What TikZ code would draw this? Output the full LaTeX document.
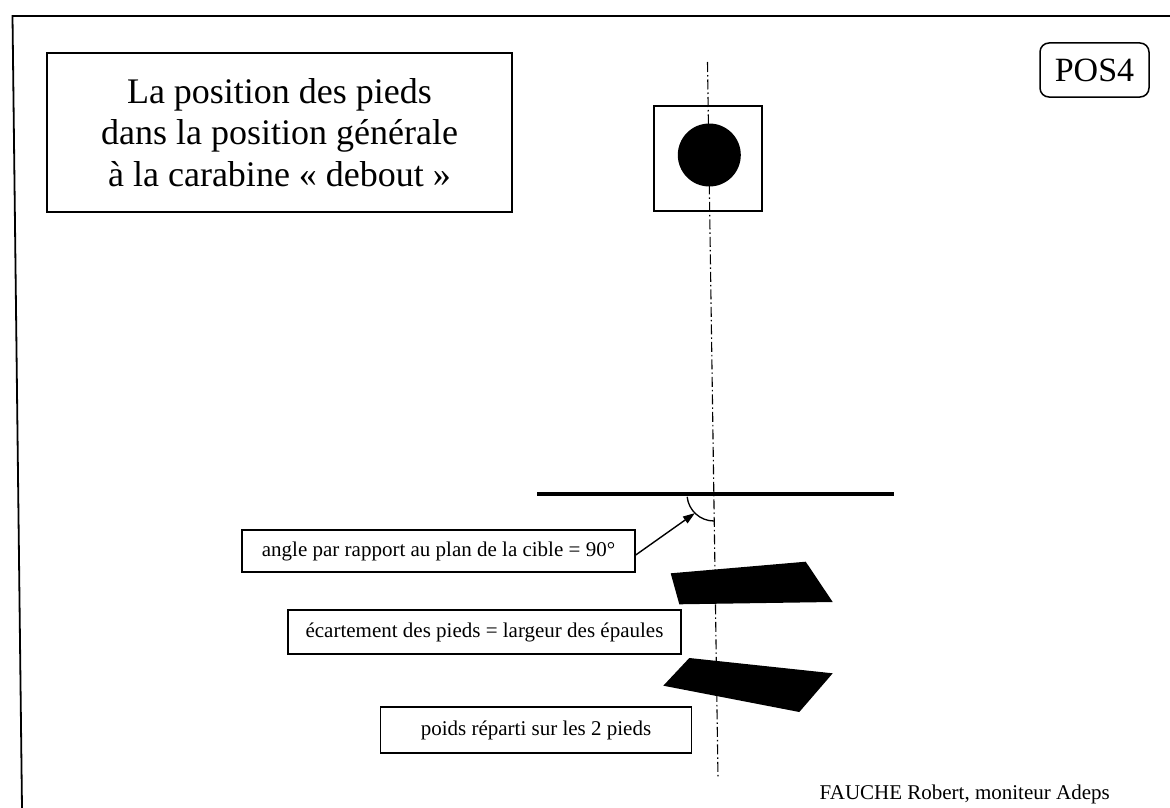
\documentclass[tikz,border=0pt]{standalone}
\usepackage{fontspec}
\setmainfont{Liberation Serif}
\usetikzlibrary{arrows.meta}
\tikzset{
  frameline/.style={line width=1.8pt},
  titlebox/.style={draw, line width=2.4pt, minimum width=465pt, minimum height=159pt, align=center, inner sep=0pt,
    font=\fontsize{36}{41.5}\selectfont},
  tagbox/.style={draw, line width=1.5pt, rounded corners=9pt, minimum width=109pt, minimum height=54pt, inner sep=0pt,
    font=\fontsize{34}{36}\selectfont},
  targetbox/.style={draw, line width=1.8pt, fill=white, minimum width=108pt, minimum height=105pt, inner sep=0pt},
  bull/.style={fill=black, draw=none, circle, minimum size=63pt, inner sep=0pt},
  notebox/.style={draw, line width=1.4pt, minimum height=42pt, inner sep=0pt, font=\fontsize{21}{24}\selectfont},
  axisline/.style={line width=1.1pt, dash pattern=on 10pt off 3pt on 1.5pt off 3pt},
  planline/.style={line width=4pt},
  footshape/.style={fill=black, draw=none},
  pointer/.style={line width=1.4pt, -{Triangle[length=12pt,width=8pt]}},
  anglearc/.style={line width=1.3pt},
  credit/.style={font=\fontsize{21}{24}\selectfont, inner sep=0pt}
}
\begin{document}
\begin{tikzpicture}[x=1pt,y=-1pt]
\useasboundingbox (0,0) rectangle (1170,808);
% outer frame (top and left)
\coordinate (frTR) at (1170,16);
\coordinate (frTL) at (12.5,16);
\coordinate (frBL) at (22,808);
\draw[frameline] (frTR) -- (frTL) -- (frBL);

% title
\node[titlebox] (title) at (279.5,132.5) {La position des pieds\\dans la position générale\\à la carabine « debout »};
% tag
\node[tagbox] (tag) at (1094.5,70) {POS4};

% target
\node[targetbox] (target) at (708,158.5) {};
% axis line
\coordinate (axtop) at (707.5,62);
\coordinate (axbot) at (718,778);
\draw[axisline] (axtop) -- (axbot);
\node[bull] (bull) at (709.3,155) {};

% plane of the target
\coordinate (plL) at (537,494);
\coordinate (plR) at (894,494);
\draw[planline] (plL) -- (plR);

% angle arc
\coordinate (ac) at (714,494);
\draw[anglearc] ([shift={(186:27pt)}]ac) arc[start angle=186, end angle=270, radius=27pt];
\coordinate (arctip) at ([shift={(225:27pt)}]ac);

% feet
\draw[footshape] (670.7,573.3) -- (805.7,561.7) -- (832.7,602) -- (679.3,604.3) -- cycle;
\draw[footshape] (689.3,658) -- (832.7,673.3) -- (799.3,712) -- (663.3,685.7) -- cycle;

% notes
\node[notebox, minimum width=393pt] (anglebox) at (438.5,551) {angle par rapport au plan de la cible = 90°};
\node[notebox, minimum width=393pt, minimum height=44pt] (ecartbox) at (484.5,632) {écartement des pieds = largeur des épaules};
\node[notebox, minimum width=311pt, minimum height=46pt] (poidsbox) at (536,730) {poids réparti sur les 2 pieds};

\draw[pointer] ([yshift=-4pt]anglebox.east) -- (arctip);

% credit
\node[credit, anchor=base east] (credit) at (1110,799) {FAUCHE Robert, moniteur Adeps};
\end{tikzpicture}
\end{document}
